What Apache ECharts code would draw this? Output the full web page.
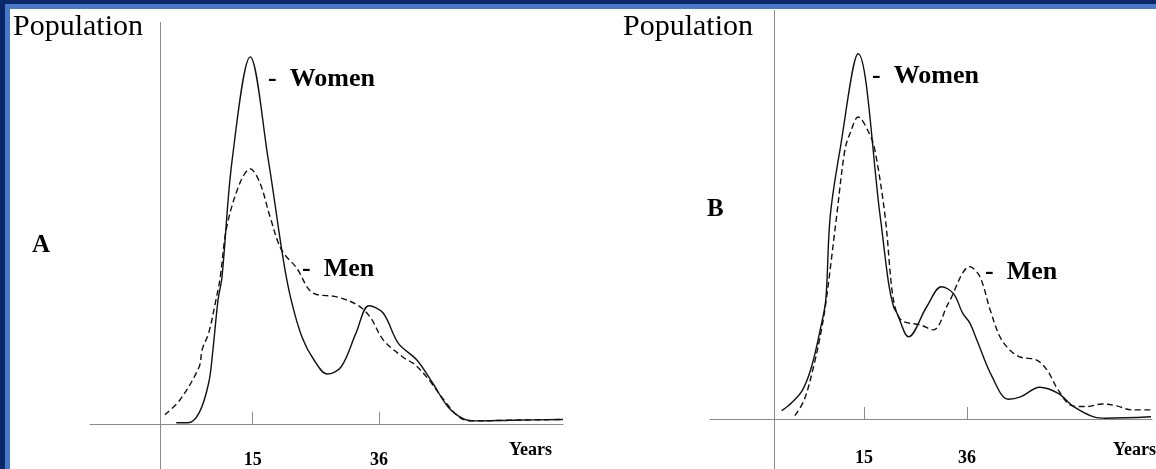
<!DOCTYPE html>
<html>
<head>
<meta charset="utf-8">
<script src="https://cdn.jsdelivr.net/npm/echarts@6/dist/echarts.min.js"></script>
<style>
  html, body { margin: 0; padding: 0; background: #fff; }
  #chart { position: absolute; left: 0; top: 0; width: 1156px; height: 469px; }
  .frame { position: absolute; z-index: 5; }
</style>
</head>
<body>
<div id="chart"></div>
<div class="frame" style="left:0;top:0;width:1156px;height:4px;background:#0a2767"></div>
<div class="frame" style="left:0;top:0;width:5px;height:469px;background:#0a2767"></div>
<div class="frame" style="left:5px;top:4px;width:1151px;height:5px;background:#4a78c8"></div>
<div class="frame" style="left:5px;top:4px;width:5px;height:465px;background:#4a78c8"></div>
<script>
/*****Data start*****/
var tickYears = [15, 36];

// panel A
var ageWomenA = [2.3, 4.2, 6.1, 7.7, 8.4, 9.25, 9.9, 11.6, 14.6, 17.6, 20.1, 21.4, 23.2, 25.2, 27.4, 29.7, 32.2, 34.35, 36.7, 39.2, 42.3, 44.9, 47.5, 50, 52, 58, 66.6];
var popWomenA = [0.3, 0.3, 3, 11.2, 20.2, 33.8, 40, 72, 100, 72, 44.7, 33.8, 23.7, 17.4, 13.6, 15.5, 24.8, 32.2, 30.2, 22, 17.4, 11.2, 4.6, 1.4, 0.8, 1, 1.2];
var ageMenA = [0.4, 2.9, 6.1, 6.6, 7.7, 8.9, 9.6, 10.7, 12.9, 14.6, 16.2, 17.9, 19.8, 22.3, 25, 29, 32.4, 34.5, 36.7, 39.9, 42, 44.3, 46.8, 49.3, 51.3, 58, 66.6];
var popMenA = [2.5, 6.5, 15.5, 20.2, 24.8, 33.8, 39.8, 53.7, 65.7, 69.5, 65.7, 56.4, 47.4, 42.5, 35.7, 34.6, 32.4, 29.2, 22.9, 18.3, 16.1, 12, 6.5, 1.9, 0.8, 1, 1.2];

// panel B
var ageWomenB = [-1.8, 0.2, 2.45, 4.3, 6.2, 7.2, 8.1, 10.1, 13.8, 18.3, 20, 21, 21.7, 24.1, 27.8, 30.8, 33.2, 35.1, 36.6, 38, 41.1, 44.4, 47, 50.8, 54.6, 57.5, 62, 64.3, 73.5];
var popWomenB = [2.3, 4.4, 7.9, 14.3, 25.3, 32.6, 55.4, 73.7, 100, 55.4, 37.2, 30.8, 29, 22.5, 30.8, 36.2, 34.4, 29, 26.2, 21.6, 11.6, 5.4, 6.1, 8.7, 7, 3.6, 0.5, 0.2, 0.6];
var ageMenB = [0.9, 2.8, 4.7, 6.2, 7.3, 9.4, 11.1, 12.2, 13.8, 16, 17.2, 19.3, 20.7, 21.7, 23, 26.4, 29.1, 32.2, 36.6, 38.6, 40.7, 42.7, 44.7, 47, 50.1, 52.3, 54.6, 57.5, 60.5, 63.5, 66.5, 69.5, 73.5];
var popMenB = [0.9, 5.2, 14.3, 23.6, 32.6, 55.4, 73.7, 78.4, 82.7, 78.4, 73.7, 55.4, 35.3, 29, 26.7, 25.8, 24.4, 31.7, 41.7, 39, 29.9, 22.5, 18.9, 16.9, 16.2, 13.4, 7.9, 3.6, 3.4, 4.1, 3.6, 2.5, 2.5];
/*****Data end*****/

function zip(xs, ys) {
	var out = [];
	for (var i = 0; i < xs.length; i++) {
		out.push([xs[i], ys[i]]);
	}
	return out;
}

var serif = "'Liberation Serif', 'Times New Roman', serif";
var axisGrey = '#8a8a8a';

// labels sit from the grid bottom, so margin is negative (grid runs to page bottom)
function xAxisFor(index, min, max, labelMargin) {
	return {
		type: 'value', gridIndex: index, min: min, max: max,
		axisLine: { show: true, onZero: true, lineStyle: { color: axisGrey, width: 1 } },
		axisTick: { show: true, inside: true, length: 12, customValues: tickYears, lineStyle: { color: axisGrey } },
		axisLabel: { show: true, customValues: tickYears, margin: labelMargin, color: '#000', fontFamily: serif, fontWeight: 'bold', fontSize: 18 },
		splitLine: { show: false }
	};
}

function yAxisFor(index, min, max) {
	return {
		type: 'value', gridIndex: index, min: min, max: max,
		axisLine: { show: false }, axisTick: { show: false },
		axisLabel: { show: false }, splitLine: { show: false }
	};
}

function curve(index, data, dashed, axisAt) {
	var s = {
		type: 'line', xAxisIndex: index, yAxisIndex: index,
		data: data, smooth: 0.35, showSymbol: false, symbol: 'none',
		lineStyle: { color: '#111', width: 1.4, type: dashed ? [6, 3.5] : 'solid' }
	};
	if (axisAt !== undefined) {
		// vertical "Population" axis
		s.markLine = {
			silent: true, symbol: 'none', label: { show: false },
			lineStyle: { color: axisGrey, width: 1, type: 'solid' },
			data: [{ xAxis: axisAt }]
		};
	}
	return s;
}

function label(text, x, y, size, bold) {
	return {
		type: 'text', left: x, top: y, z: 10,
		style: {
			text: text, fill: '#000', font: (bold ? 'bold ' : '') + size + 'px ' + serif,
			textVerticalAlign: 'middle'
		}
	};
}

var myChart = echarts.init(document.getElementById('chart'));
myChart.setOption({
	animation: false,
	backgroundColor: '#fff',
	grid: [
		{ left: 90, top: 22, width: 473, height: 447, outerBoundsMode: 'none', containLabel: false },
		{ left: 710, top: 10, width: 442, height: 459, outerBoundsMode: 'none', containLabel: false }
	],
	xAxis: [xAxisFor(0, -12.04, 66.6, -18), xAxisFor(1, -16.4, 73.7, -20)],
	yAxis: [yAxisFor(0, -12.3, 109.5), yAxisFor(1, -13.7, 112)],
	series: [
		curve(0, zip(ageWomenA, popWomenA), false, -0.4),
		curve(0, zip(ageMenA, popMenA), true),
		curve(1, zip(ageWomenB, popWomenB), false, -3.4),
		curve(1, zip(ageMenB, popMenB), true)
	],
	graphic: [
		label('Population', 13, 12, 30, false),
		label('Population', 623, 12, 30, false),
		label('A', 32, 233, 25, true),
		label('B', 707, 197, 25, true),
		label('-  Women', 268, 66, 26, true),
		label('-  Women', 872, 63, 26, true),
		label('-  Men', 302, 256, 26, true),
		label('-  Men', 985, 259, 26, true),
		label('Years', 509, 441, 18, true),
		label('Years', 1113, 441, 18, true)
	]
});
</script>
</body>
</html>
